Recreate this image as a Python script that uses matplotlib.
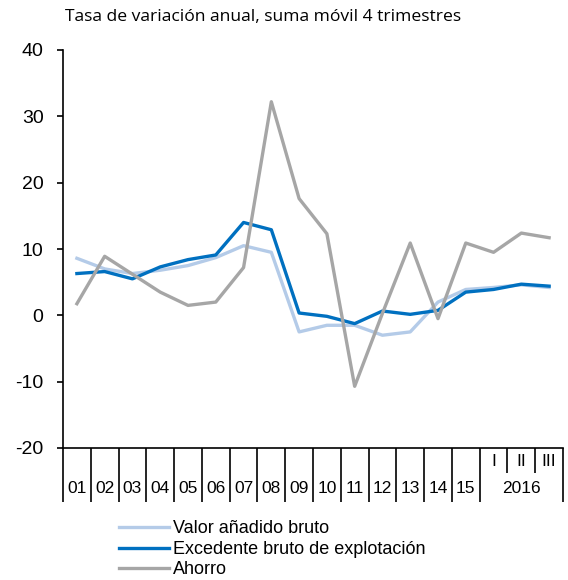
import matplotlib.pyplot as plt
import numpy as np

years = ["01", "02", "03", "04", "05", "06", "07", "08", "09", "10",
         "11", "12", "13", "14", "15"]
quarters = ["I", "II", "III"]
year_2016 = "2016"

valor_anadido = [8.6, 7.0, 6.3, 6.8, 7.5, 8.7, 10.5, 9.5, -2.5, -1.5,
                 -1.5, -3.0, -2.5, 2.0, 3.9, 4.2, 4.6, 4.2]
excedente = [6.3, 6.6, 5.5, 7.3, 8.4, 9.1, 14.0, 12.9, 0.35, -0.15,
             -1.25, 0.65, 0.15, 0.75, 3.5, 3.9, 4.7, 4.4]
ahorro = [1.75, 8.9, 6.2, 3.5, 1.5, 2.0, 7.2, 32.2, 17.6, 12.3,
          -10.7, 0.3, 10.9, -0.5, 10.9, 9.5, 12.4, 11.7]

labels = ["Valor añadido bruto", "Excedente bruto de explotación", "Ahorro"]
colors = ["#b4cbe8", "#0070c0", "#a6a6a6"]

plt.rcParams['font.family'] = ['Liberation Sans', 'DejaVu Sans']
plt.rcParams['axes.unicode_minus'] = False

fig = plt.figure(figsize=(5.68, 5.80), dpi=100)
ax = fig.add_axes([63 / 568, 1 - 448 / 580, (563 - 63) / 568, (448 - 50) / 580])

x = np.arange(len(valor_anadido))
ax.plot(x, valor_anadido, color=colors[0], lw=2.4, label=labels[0])
ax.plot(x, excedente, color=colors[1], lw=2.4, label=labels[1])
ax.plot(x, ahorro, color=colors[2], lw=2.4, label=labels[2])

ax.set_ylim(-20, 40)
ax.set_yticks(np.arange(-20, 41, 10))
ax.set_xlim(-0.5, 17.5)

for side in ["top", "right"]:
    ax.spines[side].set_visible(False)
ax.spines["left"].set_linewidth(1.2)
ax.spines["bottom"].set_linewidth(1.2)
ax.tick_params(axis="y", direction="out", length=4, width=1.2, labelsize=14, pad=10)

# long ticks between years, short ticks between quarters
long_ticks = [i - 0.5 for i in range(16)] + [17.5]
short_ticks = [15.5, 16.5]
ax.set_xticks(long_ticks)
ax.set_xticks(short_ticks, minor=True)
ax.tick_params(axis="x", which="major", direction="out", length=39, width=1.2,
               labelbottom=False)
ax.tick_params(axis="x", which="minor", direction="out", length=18, width=1.2,
               labelbottom=False)

for i, yr in enumerate(years):
    ax.annotate(yr, xy=(i, 0), xycoords=("data", "axes fraction"),
                xytext=(0, -29), textcoords="offset points",
                ha="center", va="center", fontsize=12.5)
for i, q in enumerate(quarters):
    ax.annotate(q, xy=(15 + i, 0), xycoords=("data", "axes fraction"),
                xytext=(0, -10), textcoords="offset points",
                ha="center", va="center", fontsize=12.5)
ax.annotate(year_2016, xy=(16, 0), xycoords=("data", "axes fraction"),
            xytext=(0, -29), textcoords="offset points",
            ha="center", va="center", fontsize=12.5)

fig.text(263 / 568, 1 - 17 / 580, "Tasa de variación anual, suma móvil 4 trimestres",
         ha="center", va="center", fontsize=12.6, family="Open Sans")

fig.legend(loc="upper left", bbox_to_anchor=(112 / 568, 1 - 513 / 580),
           frameon=False, fontsize=13, handlelength=2.75, handletextpad=0.25,
           labelspacing=0.2, borderaxespad=0)

fig.savefig("out.png", dpi=100)
